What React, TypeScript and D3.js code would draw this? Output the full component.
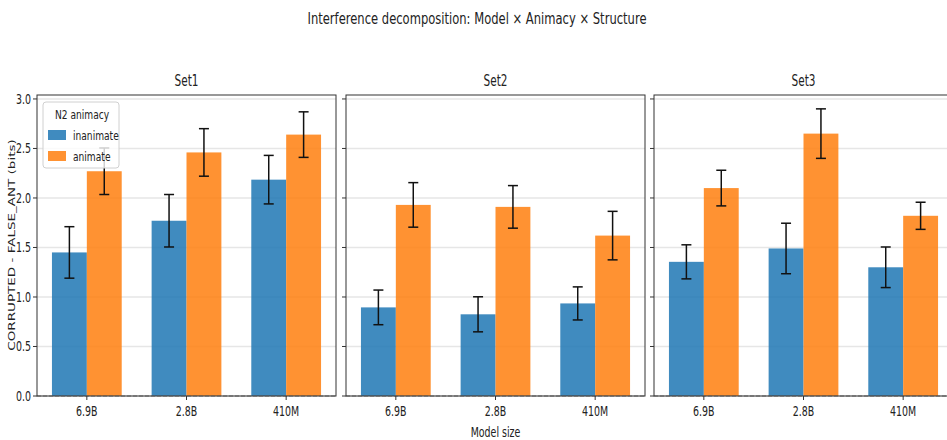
import React from "react";
import * as d3 from "d3";

const sets = ["Set1", "Set2", "Set3"];
const models = ["6.9B", "2.8B", "410M"];
const animacy = ["inanimate", "animate"];
// values [set][model]
const inanimateMean = [
  [1.45, 1.77, 2.185],
  [0.895, 0.825, 0.935],
  [1.355, 1.49, 1.30],
];
const inanimateErr = [
  [0.26, 0.265, 0.245],
  [0.175, 0.177, 0.167],
  [0.172, 0.255, 0.205],
];
const animateMean = [
  [2.27, 2.46, 2.64],
  [1.93, 1.91, 1.62],
  [2.10, 2.65, 1.82],
];
const animateErr = [
  [0.235, 0.24, 0.23],
  [0.225, 0.215, 0.245],
  [0.18, 0.25, 0.137],
];
const yTicks = [0, 0.5, 1.0, 1.5, 2.0, 2.5, 3.0];

const colors = ["#1f77b4", "#ff7f0e"];
const SX = 0.7;
const FONT = "DejaVu Sans, sans-serif";

function T({ x, y, children, size = 14, anchor = "middle", rotate = 0, fill = "#222" }: any) {
  return (
    <text
      transform={`translate(${x},${y}) scale(${SX},1)${rotate ? ` rotate(${rotate})` : ""}`}
      textAnchor={anchor}
      fontSize={size}
      fontFamily={FONT}
      fill={fill}
    >
      {children}
    </text>
  );
}

export default function App() {
  const W = 947, H = 440;
  const panelLefts = [37, 346, 654];
  const panelW = 299;
  const top = 95, bottom = 396;
  const y = d3.scaleLinear().domain([0, 3.04]).range([bottom, top]);
  const barW = 0.35;

  return (
    <svg width={W} height={H} style={{ position: "absolute", left: 0, top: 0, background: "#fff" }}>
      <rect width={W} height={H} fill="#fff" />
      <T x={477} y={24} size={16.5}>Interference decomposition: Model × Animacy × Structure</T>
      {sets.map((s, si) => {
        const left = panelLefts[si];
        const x = d3.scaleLinear().domain([-0.5, 2.5]).range([left, left + panelW]);
        const means = [inanimateMean[si], animateMean[si]];
        const errs = [inanimateErr[si], animateErr[si]];
        return (
          <g key={s}>
            <T x={left + panelW / 2} y={86} size={15}>{s}</T>
            {yTicks.map((t) => (
              <line key={t} x1={left} x2={left + panelW} y1={y(t)} y2={y(t)} stroke="#e6e6e6" strokeWidth={1.5} />
            ))}
            {models.map((m, mi) =>
              animacy.map((a, ai) => {
                const x0 = x(mi - barW + ai * barW);
                const x1 = x(mi + ai * barW);
                return (
                  <rect
                    key={m + a}
                    x={x0}
                    y={y(means[ai][mi])}
                    width={x1 - x0}
                    height={y(0) - y(means[ai][mi])}
                    fill={colors[ai]}
                    fillOpacity={0.85}
                  />
                );
              })
            )}
            <line x1={left} x2={left + panelW} y1={y(0)} y2={y(0)} stroke="#888" strokeDasharray="4,2" strokeWidth={1} />
            {models.map((m, mi) =>
              animacy.map((a, ai) => {
                const cx = x(mi - barW / 2 + ai * barW);
                const hi = y(means[ai][mi] + errs[ai][mi]);
                const lo = y(means[ai][mi] - errs[ai][mi]);
                return (
                  <g key={"e" + m + a} stroke="#111" strokeWidth={1.5}>
                    <line x1={cx} x2={cx} y1={hi} y2={lo} />
                    <line x1={cx - 5} x2={cx + 5} y1={hi} y2={hi} />
                    <line x1={cx - 5} x2={cx + 5} y1={lo} y2={lo} />
                  </g>
                );
              })
            )}
            <rect x={left} y={top} width={panelW} height={bottom - top} fill="none" stroke="#333" strokeWidth={1} />
            {yTicks.map((t) => (
              <g key={"yt" + t}>
                <line x1={left - 4} x2={left} y1={y(t)} y2={y(t)} stroke="#333" />
                {si === 0 && (
                  <T x={left - 6} y={y(t) + 5} size={13.5} anchor="end">{t.toFixed(1)}</T>
                )}
              </g>
            ))}
            {models.map((m, mi) => (
              <g key={"xt" + m}>
                <line x1={x(mi)} x2={x(mi)} y1={bottom} y2={bottom + 4} stroke="#333" />
                <T x={x(mi)} y={bottom + 20} size={13.5}>{m}</T>
              </g>
            ))}
            {si === 1 && <T x={left + panelW / 2} y={437} size={13.5}>Model size</T>}
            {si === 0 && (
              <g>
                <rect x={43} y={102} width={76} height={66} rx={3} fill="#fff" fillOpacity={0.8} stroke="#d0d0d0" />
                <T x={82} y={119} size={13}>N2 animacy</T>
                {animacy.map((a, ai) => (
                  <g key={"lg" + a}>
                    <rect x={48} y={130 + ai * 21} width={18} height={10} fill={colors[ai]} fillOpacity={0.85} />
                    <T x={73} y={140 + ai * 21} size={13} anchor="start">{a}</T>
                  </g>
                ))}
              </g>
            )}
          </g>
        );
      })}
      <T x={15} y={245} size={13.5} rotate={-90}>CORRUPTED - FALSE_ANT (bits)</T>
    </svg>
  );
}
